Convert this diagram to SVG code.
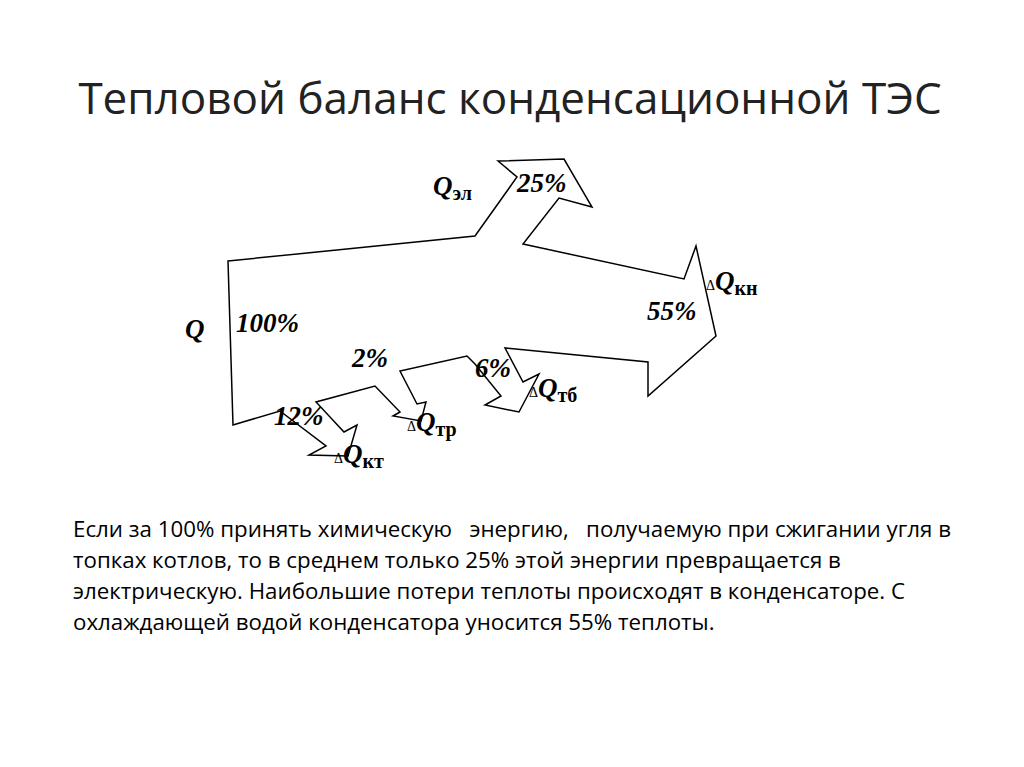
<svg xmlns="http://www.w3.org/2000/svg" width="1024" height="767" viewBox="0 0 1024 767">
<style>
.t{font-family:"Liberation Serif",serif;font-weight:bold;font-style:italic;font-size:27px;fill:#000}
.s{font-style:normal;font-size:20px}
.d{font-style:normal;font-weight:normal;font-size:14px}
.b{font-family:"Open Sans","Liberation Sans",sans-serif;font-size:22.3px;fill:#000}
</style>
<rect width="1024" height="767" fill="#fff"/>
<text x="510" y="114" text-anchor="middle" font-family="'Open Sans','Liberation Sans',sans-serif" font-size="44" fill="#222">Тепловой баланс конденсационной ТЭС</text>
<g id="connectors">
<polygon fill="none" stroke="#000" stroke-width="1.5" points="228,261 475,236 517,177 498,161 564,159 592,207 559,198 523,244 684,279 696,246 716,336 648,396 648,362 505,348 523,382 539,374 519,412 485,405 501,396 475,364 467,356 400,371 417,404 426,402 421,421 393,416 400,412 375,386 316,402 344,432 357,425 348,456 309,455 326,446 280,411 233,425"/>
</g>
<g id="labels">
<text class="t" x="433" y="195">Q<tspan class="s" dy="5">эл</tspan></text>
<text class="t" x="517" y="192">25%</text>
<text class="t" x="706" y="290"><tspan class="d">Δ</tspan>Q<tspan class="s" dy="5">кн</tspan></text>
<text class="t" x="647" y="320">55%</text>
<text class="t" x="185" y="338">Q</text>
<text class="t" x="236" y="332">100%</text>
<text class="t" x="352" y="367">2%</text>
<text class="t" x="475" y="377">6%</text>
<text class="t" x="529" y="397"><tspan class="d">Δ</tspan>Q<tspan class="s" dy="5">тб</tspan></text>
<text class="t" x="274" y="425">12%</text>
<text class="t" x="407" y="431"><tspan class="d">Δ</tspan>Q<tspan class="s" dy="5">тр</tspan></text>
<text class="t" x="334" y="463"><tspan class="d">Δ</tspan>Q<tspan class="s" dy="5">кт</tspan></text>
</g>
<g id="body">
<text class="b" x="73" y="537" xml:space="preserve">Если за 100% принять химическую   энергию,   получаемую при сжигании угля в</text>
<text class="b" x="73" y="568">топках котлов, то в среднем только 25% этой энергии превращается в</text>
<text class="b" x="73" y="599">электрическую. Наибольшие потери теплоты происходят в конденсаторе. С</text>
<text class="b" x="73" y="630">охлаждающей водой конденсатора уносится 55% теплоты.</text>
</g>
</svg>
